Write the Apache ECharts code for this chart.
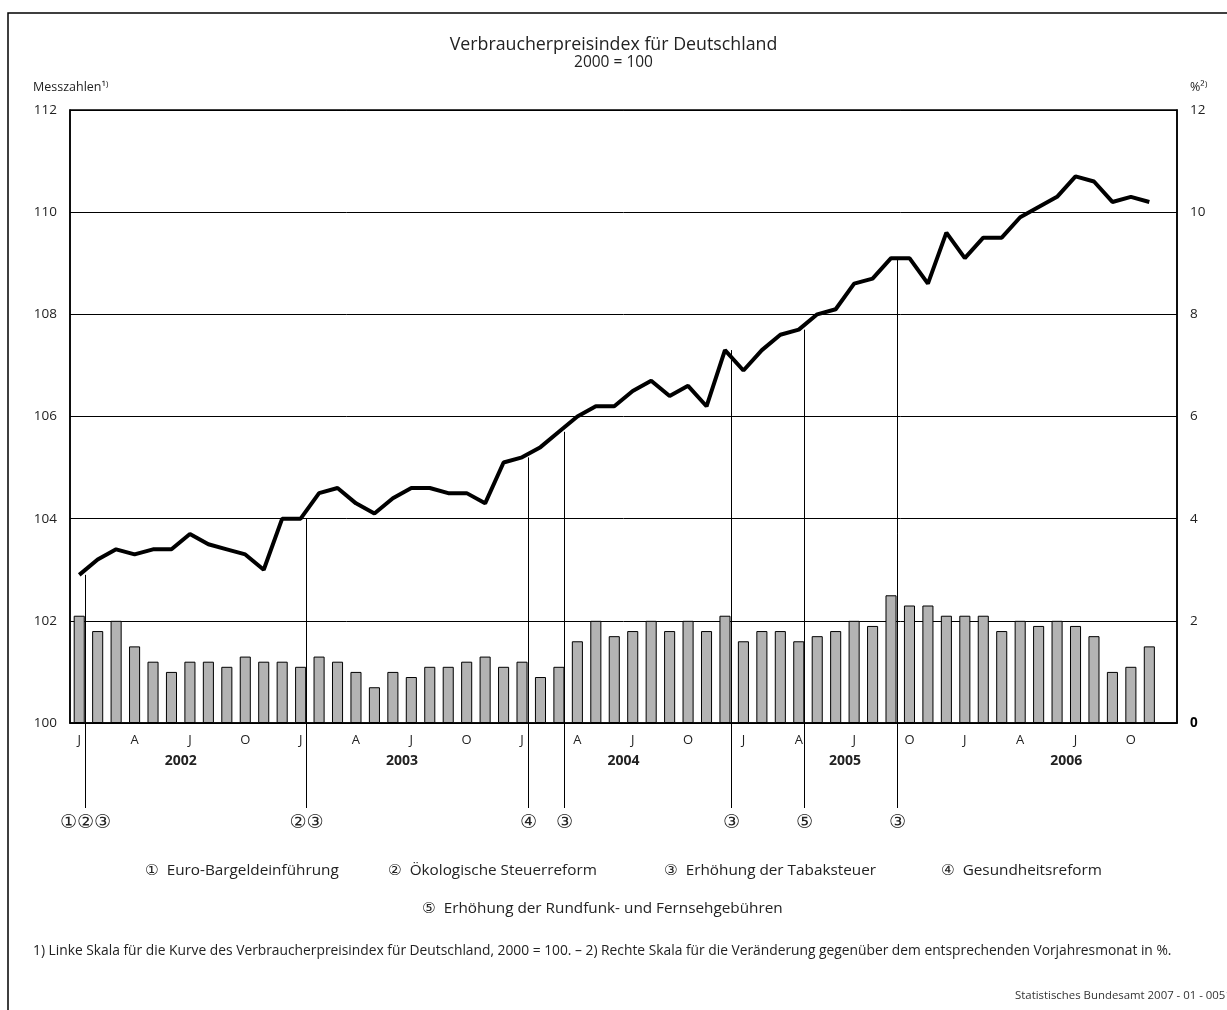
<!DOCTYPE html>
<html>
<head>
<meta charset="utf-8">
<title>Verbraucherpreisindex für Deutschland</title>
<script src="https://cdn.jsdelivr.net/npm/echarts@6/dist/echarts.min.js"></script>
<style>
  html, body { margin: 0; padding: 0; background: #fff; }
  #main { width: 1227px; height: 1010px; }
</style>
</head>
<body>
<div id="main"></div>
<script>
// Jahre und Monatskürzel fuer die x-Achse
var years = ['2002', '2003', '2004', '2005', '2006'];
var monthInitials = ['J', '', '', 'A', '', '', 'J', '', '', 'O', '', ''];

// Verbraucherpreisindex 2000 = 100 (linke Skala), Jan 2002 - Nov 2006
var cpi = [
  102.9, 103.2, 103.4, 103.3, 103.4, 103.4, 103.7, 103.5, 103.4, 103.3, 103.0, 104.0,
  104.0, 104.5, 104.6, 104.3, 104.1, 104.4, 104.6, 104.6, 104.5, 104.5, 104.3, 105.1,
  105.2, 105.4, 105.7, 106.0, 106.2, 106.2, 106.5, 106.7, 106.4, 106.6, 106.2, 107.3,
  106.9, 107.3, 107.6, 107.7, 108.0, 108.1, 108.6, 108.7, 109.1, 109.1, 108.6, 109.6,
  109.1, 109.5, 109.5, 109.9, 110.1, 110.3, 110.7, 110.6, 110.2, 110.3, 110.2
];

// Veraenderung gegenueber Vorjahresmonat in % (rechte Skala)
var change = [
  2.1, 1.8, 2.0, 1.5, 1.2, 1.0, 1.2, 1.2, 1.1, 1.3, 1.2, 1.2,
  1.1, 1.3, 1.2, 1.0, 0.7, 1.0, 0.9, 1.1, 1.1, 1.2, 1.3, 1.1,
  1.2, 0.9, 1.1, 1.6, 2.0, 1.7, 1.8, 2.0, 1.8, 2.0, 1.8, 2.1,
  1.6, 1.8, 1.8, 1.6, 1.7, 1.8, 2.0, 1.9, 2.5, 2.3, 2.3, 2.1,
  2.1, 2.1, 1.8, 2.0, 1.9, 2.0, 1.9, 1.7, 1.0, 1.1, 1.5
];

// Ereignisse: Monatsindex und Kennziffern
var markerMonths = [0, 12, 24, 26, 35, 39, 44];
var markerLabels = ['①②③', '②③', '④', '③', '③', '⑤', '③'];

var legendItems = [
  '①  Euro-Bargeldeinführung',
  '②  Ökologische Steuerreform',
  '③  Erhöhung der Tabaksteuer',
  '④  Gesundheitsreform',
  '⑤  Erhöhung der Rundfunk- und Fernsehgebühren'
];

var leftTicks = [100, 112, 2];
var rightTicks = [0, 12, 2];

var FONT = '"Open Sans", "DejaVu Sans", sans-serif';

// 60 Monatskategorien (Dez 2006 ohne Wert)
var months = [];
years.forEach(function (y) {
  for (var m = 0; m < 12; m++) months.push(y + '-' + (m + 1));
});

var markerData = markerMonths.map(function (i) { return [i, cpi[i]]; });

var chart = echarts.init(document.getElementById('main'));

chart.setOption({
  backgroundColor: '#fff',
  animation: false,
  title: {
    text: 'Verbraucherpreisindex für Deutschland',
    subtext: '2000 = 100',
    left: 'center',
    top: 31,
    itemGap: 1,
    textStyle: { fontFamily: FONT, fontSize: 17.8, fontWeight: 'normal', color: '#222' },
    subtextStyle: { fontFamily: FONT, fontSize: 15.5, color: '#222' }
  },
  grid: {
    left: 70, right: 50, top: 110, bottom: 287,
    show: true, borderColor: '#000', borderWidth: 1.5
  },
  xAxis: [{
    type: 'category',
    data: months,
    boundaryGap: true,
    axisLine: { lineStyle: { color: '#000', width: 1.5 } },
    axisTick: { interval: 0, length: 8, lineStyle: { color: '#000' } },
    axisLabel: {
      interval: 0, margin: 11,
      fontFamily: FONT, fontSize: 13, color: '#222',
      formatter: function (v, i) { return monthInitials[i % 12]; }
    }
  }, {
    type: 'category',
    data: years,
    position: 'bottom',
    boundaryGap: true,
    axisLine: { show: false },
    axisTick: { interval: 0, length: 44, lineStyle: { color: '#000' } },
    axisLabel: { interval: 0, margin: 31, fontFamily: FONT, fontSize: 14, fontWeight: 'bold', color: '#222' }
  }],
  yAxis: [{
    type: 'value',
    min: leftTicks[0], max: leftTicks[1], interval: leftTicks[2],
    axisLine: { show: true, lineStyle: { color: '#000', width: 1.5 } },
    axisTick: { show: false },
    splitLine: { lineStyle: { color: '#000', width: 1 } },
    axisLabel: { margin: 13, fontFamily: FONT, fontSize: 13.5, color: '#222' }
  }, {
    type: 'value',
    position: 'right',
    min: rightTicks[0], max: rightTicks[1], interval: rightTicks[2],
    axisLine: { show: true, lineStyle: { color: '#000', width: 1.5 } },
    axisTick: { show: false },
    splitLine: { show: false },
    axisLabel: {
      margin: 13, fontFamily: FONT, fontSize: 13.5, color: '#222',
      formatter: function (v) { return v === 0 ? '{b|0}' : String(v); },
      rich: { b: { fontFamily: FONT, fontSize: 13.5, fontWeight: 'bold', color: '#000' } }
    }
  }],
  series: [{
    name: 'Veränderung',
    type: 'bar',
    xAxisIndex: 0, yAxisIndex: 1,
    data: change,
    barWidth: '60%',
    z: 2,
    itemStyle: { color: '#b3b3b3', borderColor: '#000', borderWidth: 1 }
  }, {
    // senkrechte Ereignislinien mit Kennziffern unter der Achse
    name: 'Ereignisse',
    type: 'custom',
    xAxisIndex: 0, yAxisIndex: 0,
    data: markerData,
    z: 3,
    clip: false,
    renderItem: function (params, api) {
      var p = api.coord([api.value(0), api.value(1)]);
      var band = api.size([1, 0])[0];
      var x = Math.round(p[0] + band * 0.3) + 0.5;
      var bottom = params.coordSys.y + params.coordSys.height + 85;
      return {
        type: 'group',
        children: [{
          type: 'line',
          shape: { x1: x, y1: p[1], x2: x, y2: bottom },
          style: { stroke: '#000', lineWidth: 1 }
        }, {
          type: 'text',
          style: {
            text: markerLabels[params.dataIndex],
            x: x, y: bottom + 15,
            align: 'center', verticalAlign: 'middle',
            font: '19px "DejaVu Sans", sans-serif', fill: '#222'
          }
        }]
      };
    }
  }, {
    name: 'Verbraucherpreisindex',
    type: 'line',
    xAxisIndex: 0, yAxisIndex: 0,
    data: cpi,
    z: 4,
    symbol: 'none',
    lineStyle: { color: '#000', width: 4 }
  }],
  graphic: [
    { type: 'rect', shape: { x: 8, y: 13, width: 1400, height: 1200 },
      style: { fill: 'none', stroke: '#000', lineWidth: 1.5 }, silent: true },
    { type: 'text', left: 33, top: 81, style: { text: 'Messzahlen¹⁾', font: '12.5px ' + FONT, fill: '#222' } },
    { type: 'text', left: 1190, top: 81, style: { text: '%²⁾', font: '12.5px ' + FONT, fill: '#222' } },
    { type: 'text', left: 145, top: 863, style: { text: legendItems[0], font: '15.3px ' + FONT, fill: '#222' } },
    { type: 'text', left: 388, top: 863, style: { text: legendItems[1], font: '15.3px ' + FONT, fill: '#222' } },
    { type: 'text', left: 664, top: 863, style: { text: legendItems[2], font: '15.3px ' + FONT, fill: '#222' } },
    { type: 'text', left: 941, top: 863, style: { text: legendItems[3], font: '15.3px ' + FONT, fill: '#222' } },
    { type: 'text', left: 422, top: 901, style: { text: legendItems[4], font: '15.3px ' + FONT, fill: '#222' } },
    { type: 'text', left: 33, top: 944, style: {
      text: '1) Linke Skala für die Kurve des Verbraucherpreisindex für Deutschland, 2000 = 100. – 2) Rechte Skala für die Veränderung gegenüber dem entsprechenden Vorjahresmonat in %.',
      font: '13.8px ' + FONT, fill: '#222' } },
    { type: 'text', left: 1015, top: 990, style: { text: 'Statistisches Bundesamt 2007 - 01 - 0051', font: '11.4px ' + FONT, fill: '#333' } }
  ]
});
</script>
</body>
</html>
